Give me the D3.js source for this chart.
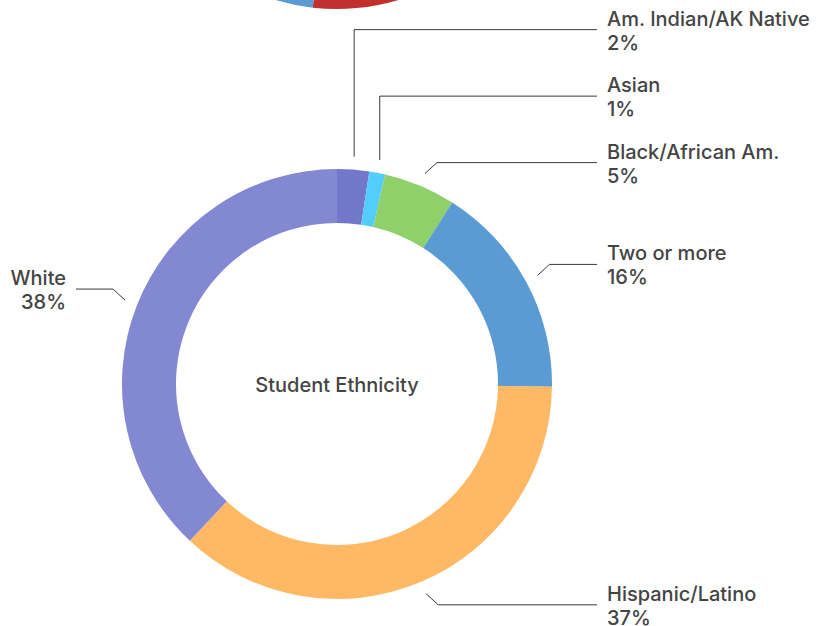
<!DOCTYPE html>
<html>
<head>
<meta charset="utf-8">
<script src="https://cdn.jsdelivr.net/npm/d3@7"></script>
<style>
  body { margin: 0; background: #fff; }
  text { font-family: Inter, "Liberation Sans", Arial, sans-serif; font-weight: 500; fill: #444; }
</style>
</head>
<body>
<svg id="chart" width="832" height="626"></svg>
<script>
// Student ethnicity shares (percent)
const labels = ["Am. Indian/AK Native", "Asian", "Black/African Am.", "Two or more", "Hispanic/Latino", "White"];
const values = [2.4, 1.2, 5.4, 16.2, 36.8, 38.0];
const colors = ["#7377ca", "#52cdfd", "#8fd06b", "#5b9bd3", "#ffb964", "#8388d3"];

// the chart above, cut off by the top edge
const topValues = [51.8, 48.2];
const topColors = ["#c1302f", "#5b9bd3"];

const svg = d3.select("#chart");
const cx = 337, cy = 384, R = 215, r0 = 161;

const pie = d3.pie().sort(null).value(d => d);
const arc = d3.arc().innerRadius(r0).outerRadius(R);

// partial donut at the top
svg.append("g")
  .attr("transform", `translate(${cx},${cy - 590})`)
  .selectAll("path")
  .data(pie(topValues))
  .join("path")
  .attr("d", arc)
  .attr("fill", (d, i) => topColors[i]);

const g = svg.append("g").attr("transform", `translate(${cx},${cy})`);
const arcs = pie(values);

g.selectAll("path.slice")
  .data(arcs)
  .join("path")
  .attr("class", "slice")
  .attr("d", arc)
  .attr("fill", (d, i) => colors[i]);

g.append("text")
  .attr("x", 0).attr("y", 8)
  .attr("text-anchor", "middle")
  .style("font-size", "20px")
  .text("Student Ethnicity");

// labels and connectors
const rStart = 228, crook = 12, gap = 66.5;
const polar = (rad, a) => [rad * Math.sin(a), -rad * Math.cos(a)];

let items = arcs.map((d, i) => {
  const a = (d.startAngle + d.endAngle) / 2;
  const [sx, sy] = polar(rStart, a);
  const side = Math.sin(a) >= 0 ? 1 : -1;
  const up = Math.cos(a) >= 0 ? -1 : 1;
  return { i, a, sx, sy, side, ly: sy + up * (crook - 1), natural: true };
});

// push right side labels up so they do not overlap
const right = items.filter(d => d.side > 0).sort((a, b) => b.ly - a.ly);
for (let k = 1; k < right.length; k++) {
  if (right[k - 1].ly - right[k].ly < gap) {
    right[k].ly = right[k - 1].ly - gap;
    right[k].natural = false;
  }
}

items.forEach(d => {
  const ex = d.natural ? d.sx + d.side * crook : d.sx;
  const endX = d.side > 0 ? 597 - cx : 76 - cx;
  g.append("path")
    .attr("d", `M${d.sx},${d.sy}L${ex},${d.ly}L${endX},${d.ly}`)
    .attr("fill", "none")
    .attr("stroke", "#3a3a3a")
    .attr("stroke-width", 1);

  const tx = d.side > 0 ? 607 - cx : 66 - cx;
  const t = g.append("text")
    .attr("text-anchor", d.side > 0 ? "start" : "end")
    .style("font-size", "20px");
  t.append("tspan").attr("x", tx).attr("y", d.ly - 4).text(labels[d.i]);
  t.append("tspan").attr("x", tx).attr("y", d.ly + 20).text(Math.round(values[d.i]) + "%");
});
</script>
</body>
</html>
